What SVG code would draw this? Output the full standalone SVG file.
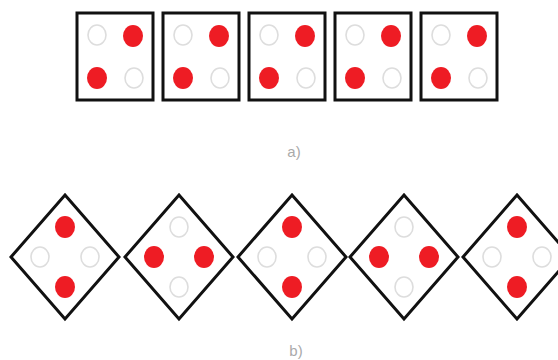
<svg xmlns="http://www.w3.org/2000/svg" width="558" height="360" viewBox="0 0 558 360">
<defs>
<style>
.box{fill:#fff;stroke:#111;stroke-width:3}
.red{fill:#ee1c24}
.hol{fill:#fff;stroke:#ddd;stroke-width:1.6}
.lbl{font-family:"Liberation Sans",Arial,sans-serif;font-size:15px;fill:#aaa;text-anchor:middle}
</style>
<g id="sq"><rect class="box" x="0" y="0" width="76" height="87"/>
<ellipse class="hol" cx="20" cy="22" rx="9" ry="10"/>
<ellipse class="red" cx="56" cy="23" rx="10" ry="11"/>
<ellipse class="red" cx="20" cy="65" rx="10" ry="11"/>
<ellipse class="hol" cx="57" cy="65" rx="9" ry="10"/></g>
<g id="dA"><polygon class="box" points="0,-62 54,0 0,62 -54,0"/>
<ellipse class="red" cx="0" cy="-30" rx="10" ry="11"/>
<ellipse class="red" cx="0" cy="30" rx="10" ry="11"/>
<ellipse class="hol" cx="-25" cy="0" rx="9" ry="10"/>
<ellipse class="hol" cx="25" cy="0" rx="9" ry="10"/></g>
<g id="dB"><polygon class="box" points="0,-62 54,0 0,62 -54,0"/>
<ellipse class="hol" cx="0" cy="-30" rx="9" ry="10"/>
<ellipse class="hol" cx="0" cy="30" rx="9" ry="10"/>
<ellipse class="red" cx="-25" cy="0" rx="10" ry="11"/>
<ellipse class="red" cx="25" cy="0" rx="10" ry="11"/></g>
</defs>
<rect width="558" height="360" fill="#fff"/>
<g id="a1"><use href="#sq" x="77" y="13"/></g>
<g id="a2"><use href="#sq" x="163" y="13"/></g>
<g id="a3"><use href="#sq" x="249" y="13"/></g>
<g id="a4"><use href="#sq" x="335" y="13"/></g>
<g id="a5"><use href="#sq" x="421" y="13"/></g>
<text class="lbl" x="294" y="157">a)</text>
<g id="b1"><use href="#dA" x="65" y="257"/></g>
<g id="b2"><use href="#dB" x="179" y="257"/></g>
<g id="b3"><use href="#dA" x="292" y="257"/></g>
<g id="b4"><use href="#dB" x="404" y="257"/></g>
<g id="b5"><use href="#dA" x="517" y="257"/></g>
<text class="lbl" x="296" y="356">b)</text>
<g id="connectors"/>
</svg>
